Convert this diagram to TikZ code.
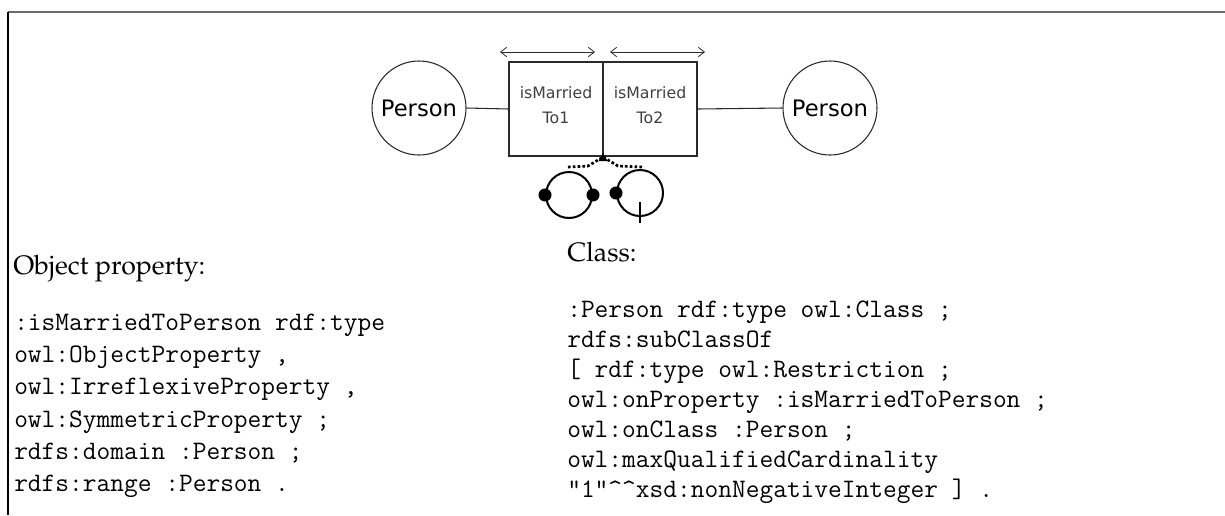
\documentclass[tikz,border=0pt]{standalone}
\usepackage[T1]{fontenc}
\usepackage{fontspec}
\newfontfamily\dejavu{DejaVu Sans}
\usetikzlibrary{arrows.meta}
\newcommand{\palfont}{\fontencoding{T1}\fontfamily{ppl}\selectfont}
\definecolor{framegray}{HTML}{6A6A6A}
\definecolor{linedark}{HTML}{2A2A2A}
\definecolor{textgray}{HTML}{404040}
\tikzset{
  person/.style={circle, draw=linedark, line width=0.8pt, minimum size=70.5pt, inner sep=0pt,
                 font=\dejavu\fontsize{17}{20}\selectfont},
  propbox/.style={rectangle, draw=linedark, line width=0.9pt, minimum width=70.5pt, minimum height=70.5pt, inner sep=0pt},
  boxtext/.style={align=center, inner sep=0pt, text=textgray, font=\dejavu\fontsize{11.8}{18.8}\selectfont},
  link/.style={draw=linedark, line width=0.8pt},
  dirarrow/.style={draw=linedark, line width=0.6pt, {Straight Barb[length=4.5pt,width=7pt]}-{Straight Barb[length=4.5pt,width=7pt]}},
  dotline/.style={draw=black, line width=2pt, dash pattern=on 2pt off 1.6pt},
  icon/.style={circle, draw=black, line width=1.5pt, minimum size=34.5pt, inner sep=0pt},
  blob/.style={circle, fill=black, minimum size=9.8pt, inner sep=0pt},
  heading/.style={anchor=base west, inner sep=0pt, font=\palfont\fontsize{20}{24}\selectfont},
  code/.style={anchor=base west, inner sep=0pt, font=\ttfamily\fontsize{20}{24}\selectfont},
}
\begin{document}
\begin{tikzpicture}[x=0.75pt, y=-0.75pt]
\useasboundingbox (0,0) rectangle (1225,515);
% frame
\draw[framegray, line width=1.3pt] (8,12) -- (1225,12);
\draw[black, line width=1.2pt] (8,12) -- (8,515);

% diagram
\node[person] (pl) at (419,108) {Person};
\node[person] (pr) at (830,108) {Person};
\node[propbox] (b1) at (556,109) {};
\node[propbox] (b2) at (650,109) {};
\node[boxtext] (t1) at (556,105.5) {isMarried\\To1};
\node[boxtext] (t2) at (650,105.5) {isMarried\\To2};
\draw[link] (pl.east) -- (b1.west);
\draw[link] (b2.east) -- (pr.west);

\coordinate (a1s) at (500,52);
\coordinate (a1e) at (595,52);
\coordinate (a2s) at (610,52);
\coordinate (a2e) at (705,52);
\draw[dirarrow] (a1s) -- (a1e);
\draw[dirarrow] (a2s) -- (a2e);

% dotted links to the characteristic icons
\coordinate (jn) at (603,157);
\coordinate (dl) at (568,167);
\coordinate (dr) at (642,167);
\draw[dotline] (dl) -- (588,166) -- (jn);
\draw[dotline] (dr) -- (618,166) -- (jn);
\fill[black] (603,153) -- (598.5,161) -- (607.5,161) -- cycle;

% symmetric icon
\node[icon] (sym) at (569,195) {};
\node[blob] (s1) at (sym.west) {};
\node[blob] (s2) at (sym.east) {};
% irreflexive icon
\node[icon] (irr) at (640,193) {};
\node[blob] (i1) at (irr.west) {};
\coordinate (ta) at (640,202);
\coordinate (tb) at (640,223);
\draw[black, line width=1.6pt] (ta) -- (tb);

% texts
\node[heading] (h1) at (13,274) {Object property:};
\node[heading] (h2) at (567,261) {Class:};

\node[code] (l1) at (14,330) {:isMarriedToPerson rdf:type};
\node[code] (l2) at (14,362) {owl:ObjectProperty ,};
\node[code] (l3) at (14,394) {owl:IrreflexiveProperty ,};
\node[code] (l4) at (14,427) {owl:SymmetricProperty ;};
\node[code] (l5) at (14,459) {rdfs:domain :Person ;};
\node[code] (l6) at (14,491) {rdfs:range :Person .};

\node[code] (r1) at (567,317) {:Person rdf:type owl:Class ;};
\node[code] (r2) at (567,347) {rdfs:subClassOf};
\node[code] (r3) at (567,377) {[ rdf:type owl:Restriction ;};
\node[code] (r4) at (567,407) {owl:onProperty :isMarriedToPerson ;};
\node[code] (r5) at (567,437) {owl:onClass :Person ;};
\node[code] (r6) at (567,467) {owl:maxQualifiedCardinality};
\node[code] (r7) at (567,497) {"1"\textasciicircum\textasciicircum xsd:nonNegativeInteger ] .};
\end{tikzpicture}
\end{document}
